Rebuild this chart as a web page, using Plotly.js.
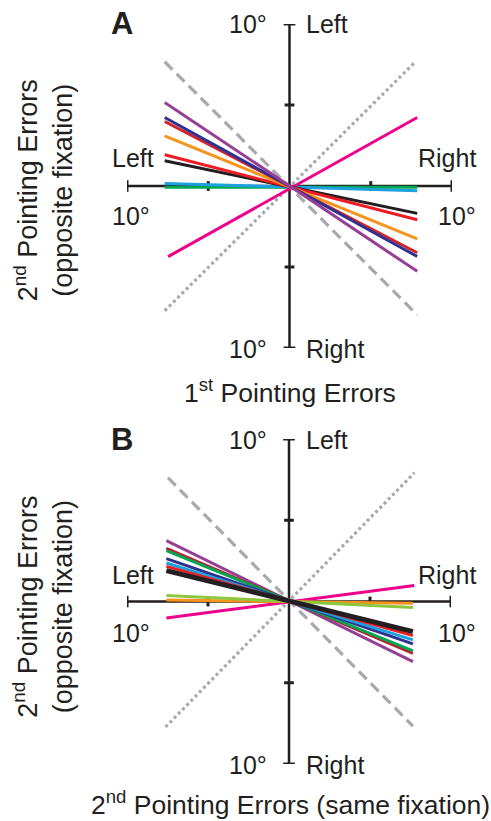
<!DOCTYPE html>
<html>
<head>
<meta charset="utf-8">
<script src="https://cdn.plot.ly/plotly-3.0.1.min.js"></script>
<style>html,body{margin:0;padding:0;background:#fff;}#chart{width:491px;height:821px;}</style>
</head>
<body>
<div id="chart"></div>
<script>
// ---------- Panel A data (1st pointing errors vs 2nd, opposite fixation) ----------
const namesA  = ["dashed ref", "dotted ref", "green", "cyan", "pink", "black", "red 2", "orange", "red 1", "navy", "purple"];
const colorsA = ["#A7A9AC", "#A7A9AC", "#00A651", "#1BA1DB", "#EC008C", "#231F20", "#ED1C24", "#F7941D", "#D2232A", "#2E3192", "#973F95"];
const dashA   = ["dash", "dot", "solid", "solid", "solid", "solid", "solid", "solid", "solid", "solid", "solid"];
const x0A     = [-7.68, -7.68, -7.68, -7.68, -7.47, -7.68, -7.68, -7.68, -7.68, -7.68, -7.68];
const y0A     = [ 7.67, -7.70, -0.08,  0.16, -4.36,  1.56,  1.93,  3.10,  3.98,  4.23,  5.16];
const x1A     = [ 7.86,  7.75,  7.86,  7.86,  7.86,  7.86,  7.86,  7.86,  7.86,  7.86,  7.86];
const y1A     = [-7.96,  7.67, -0.07, -0.29,  4.23, -1.69, -2.08, -3.27, -4.12, -4.35, -5.27];

// ---------- Panel B data (2nd pointing errors same vs opposite fixation) ----------
const namesB  = ["dashed ref", "dotted ref", "pink", "orange", "lime", "purple", "dark red", "green", "navy", "cyan", "red", "black"];
const colorsB = ["#A7A9AC", "#A7A9AC", "#EC008C", "#F7941D", "#8DC63F", "#973F95", "#BE1E2D", "#00A651", "#2E3192", "#1BA1DB", "#ED1C24", "#231F20"];
const dashB   = ["dash", "dot", "solid", "solid", "solid", "solid", "solid", "solid", "solid", "solid", "solid", "solid"];
const x0B     = [-7.47, -7.62, -7.57, -7.57, -7.57, -7.57, -7.57, -7.57, -7.57, -7.57, -7.57, -7.57];
const y0B     = [ 7.62, -7.72, -1.02,  0.09,  0.37,  3.75,  3.27,  3.13,  2.64,  2.37,  2.16,  1.90];
const x1B     = [ 7.65,  7.75,  7.73,  7.65,  7.65,  7.65,  7.65,  7.65,  7.65,  7.65,  7.65,  7.65];
const y1B     = [-7.67,  7.93,  0.99, -0.10, -0.37, -3.70, -3.19, -3.04, -2.61, -2.36, -2.10, -1.85];

const axisMax = 10;      // extent of the drawn axes (degrees)
const tickAt  = 5;       // inner tick position (degrees)

const INK = "#231F20";
const FONT = "Liberation Sans, Arial, Helvetica, sans-serif";

function dashStr(d){
  if (d === "dash") return "11px,6px";
  if (d === "dot") return "3px,3px";
  return "solid";
}

const traces = [];
function addPanel(names, colors, dashes, x0, y0, x1, y1, xa, ya){
  for (let i = 0; i < names.length; i++){
    let w = 3;
    if (dashes[i] !== "solid") w = 3.2;
    if (names[i] === "black" && xa === "x2") w = 5;
    traces.push({
      type: "scatter", mode: "lines", name: names[i],
      x: [x0[i], x1[i]], y: [y0[i], y1[i]],
      xaxis: xa, yaxis: ya, hoverinfo: "skip", showlegend: false,
      line: {color: colors[i], width: w, dash: dashStr(dashes[i])}
    });
  }
}
addPanel(namesA, colorsA, dashA, x0A, y0A, x1A, y1A, "x", "y");
addPanel(namesB, colorsB, dashB, x0B, y0B, x1B, y1B, "x2", "y2");

// axis crosses with end caps and 5-degree ticks
const shapes = [];
function axisShapes(xr, yr){
  const L = {color: INK, width: 2.5};
  const cap = 0.36, tk = 0.3;
  shapes.push({type:"line", xref:xr, yref:yr, x0:-axisMax, x1:axisMax, y0:0, y1:0, line:L, layer:"below"});
  shapes.push({type:"line", xref:xr, yref:yr, x0:0, x1:0, y0:-axisMax, y1:axisMax, line:L, layer:"below"});
  [-axisMax, axisMax].forEach(v => {
    shapes.push({type:"line", xref:xr, yref:yr, x0:v, x1:v, y0:-cap, y1:cap, line:{color:INK, width:3}, layer:"below"});
    shapes.push({type:"line", xref:xr, yref:yr, x0:-cap, x1:cap, y0:v, y1:v, line:{color:INK, width:3}, layer:"below"});
  });
  [-tickAt, tickAt].forEach(v => {
    shapes.push({type:"line", xref:xr, yref:yr, x0:v, x1:v, y0:-tk, y1:tk, line:{color:INK, width:3}, layer:"below"});
    shapes.push({type:"line", xref:xr, yref:yr, x0:-tk, x1:tk, y0:v, y1:v, line:{color:INK, width:3}, layer:"below"});
  });
}
axisShapes("x", "y");
axisShapes("x2", "y2");

const W = 491, H = 821;
function ann(text, px, py, xanchor, size, extra){
  return Object.assign({
    text: text, xref: "paper", yref: "paper", x: px / W, y: 1 - py / H,
    xanchor: xanchor, yanchor: "middle", showarrow: false,
    font: {family: FONT, size: size, color: INK}
  }, extra || {});
}
const FS = 25;
const annotations = [];
function panelLabels(letter, top, cy, bottom, title, titleY){
  annotations.push(ann("<b>" + letter + "</b>", 109, top + 3, "left", 31));
  annotations.push(ann("10°", 269, top + 4, "right", FS));
  annotations.push(ann("Left", 304, top + 4, "left", FS));
  annotations.push(ann("10°", 269, bottom + 1, "right", FS));
  annotations.push(ann("Right", 304, bottom + 1, "left", FS));
  annotations.push(ann("Left", 110, cy - 27, "left", FS));
  annotations.push(ann("Right", 478, cy - 27, "right", FS));
  annotations.push(ann("10°", 110, cy + 31, "left", FS));
  annotations.push(ann("10°", 478, cy + 31, "right", FS));
  annotations.push(ann(title, 290, titleY, "center", 26.5));
  annotations.push(ann("2<sup>nd</sup> Pointing Errors<br>(opposite fixation)", 43, cy + 5, "center", 27,
    {textangle: -90}));
}
panelLabels("A", 20, 185.3, 348, "1<sup>st</sup> Pointing Errors", 391);
panelLabels("B", 436, 601.7, 764, "2<sup>nd</sup> Pointing Errors (same fixation)", 803);

function hiddenAxis(domain, anchor){
  return {domain: domain, range: [-axisMax, axisMax], anchor: anchor,
    showgrid: false, zeroline: false, showline: false, showticklabels: false, ticks: "", fixedrange: true};
}

const layout = {
  width: W, height: H,
  margin: {l: 0, r: 0, t: 0, b: 0},
  paper_bgcolor: "#ffffff", plot_bgcolor: "rgba(0,0,0,0)",
  showlegend: false,
  xaxis:  hiddenAxis([127 / W, 452 / W], "y"),
  yaxis:  hiddenAxis([1 - 348 / H, 1 - 24 / H], "x"),
  xaxis2: hiddenAxis([127 / W, 451 / W], "y2"),
  yaxis2: hiddenAxis([1 - 764 / H, 1 - 439 / H], "x2"),
  shapes: shapes,
  annotations: annotations,
  font: {family: FONT, color: INK}
};

Plotly.newPlot("chart", traces, layout, {staticPlot: true, displayModeBar: false});
</script>
</body>
</html>
